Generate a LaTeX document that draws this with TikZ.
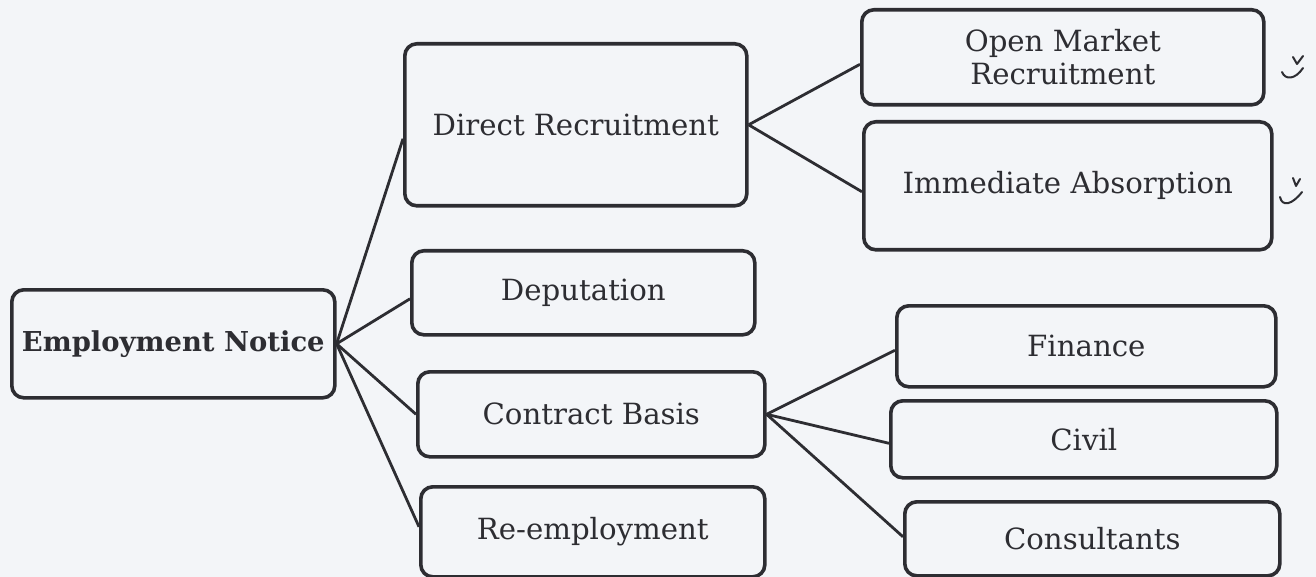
\documentclass[tikz,border=0pt]{standalone}
\usepackage{fontspec}
\setmainfont{DejaVu Serif}
\definecolor{bg}{RGB}{243,245,248}
\definecolor{ink}{RGB}{45,45,50}
\begin{document}
\begin{tikzpicture}[x=0.5pt,y=-0.5pt,
  box/.style={draw=ink, line width=1.8pt, rounded corners=6pt, inner sep=0pt,
    anchor=north west, align=center, text=ink, font=\fontsize{14.6}{16.5}\selectfont},
  link/.style={draw=ink, line width=1.4pt},
  pen/.style={draw=ink, line width=1pt, line cap=round, line join=round}]
\fill[bg] (0,0) rectangle (1316,577);
\useasboundingbox (0,0) rectangle (1316,577);

\node[box, minimum width=161.5pt, minimum height=54pt, font=\fontsize{13.7}{16}\selectfont\bfseries] (en) at (10,288) {Employment Notice};
\node[box, minimum width=171pt, minimum height=81pt] (dr) at (403,42) {Direct Recruitment};
\node[box, minimum width=171.5pt, minimum height=42pt] (dep) at (410,249) {Deputation};
\node[box, minimum width=173.5pt, minimum height=42.5pt] (cb) at (416,370) {Contract Basis};
\node[box, minimum width=172pt, minimum height=45pt] (re) at (419,485) {Re-employment};
\node[box, minimum width=201pt, minimum height=47.5pt] (om) at (860,8) {Open Market\\Recruitment};
\node[box, minimum width=204pt, minimum height=64pt] (ia) at (862,120) {Immediate Absorption};
\node[box, minimum width=189.5pt, minimum height=40.5pt] (fin) at (895,304) {Finance};
\node[box, minimum width=193pt, minimum height=38.5pt] (civ) at (889,399) {Civil};
\node[box, minimum width=187.5pt, minimum height=37pt] (con) at (903,500) {Consultants};

\draw[link] (en.east) -- ([yshift=-7pt]dr.west);
\draw[link] (en.east) -- ([yshift=-3pt]dep.west);
\draw[link] (en.east) -- (cb.west);
\draw[link] (en.east) -- ([yshift=2.5pt]re.west);
\draw[link] (dr.east) -- ([yshift=-3.5pt]om.west);
\draw[link] (dr.east) -- ([yshift=-3pt]ia.west);
\draw[link] (cb.east) -- ([yshift=-2pt]fin.west);
\draw[link] (cb.east) -- ([yshift=-2pt]civ.west);
\draw[link] (cb.east) -- ([yshift=1pt]con.west);

% handwritten tick marks
\draw[pen] (1293,57) -- (1297,64) -- (1303,56);
\draw[pen] (1282,72) .. controls (1285,80) and (1295,80) .. (1303,68);
\draw[pen] (1293,178) -- (1296,186) -- (1300,179);
\draw[pen] (1280,197) .. controls (1282,207) and (1292,205) .. (1302,192);
\end{tikzpicture}
\end{document}
